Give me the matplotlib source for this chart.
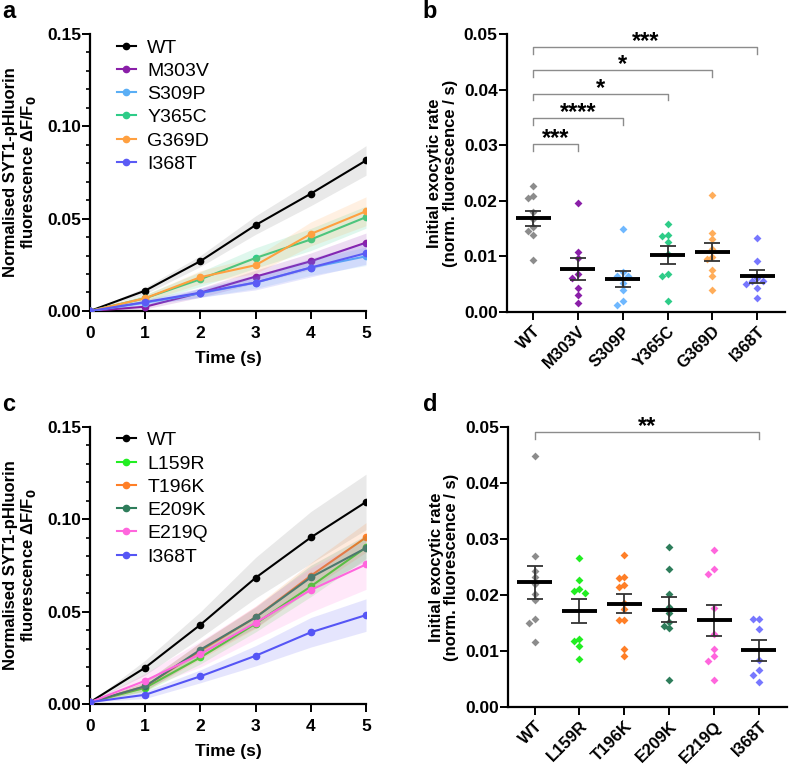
import numpy as np
import matplotlib
matplotlib.use("Agg")
import matplotlib.pyplot as plt

plt.rcParams['font.family'] = ['Liberation Sans', 'DejaVu Sans']

# ---------------- data: time courses (panels a, c) ----------------
time_s = [0, 1, 2, 3, 4, 5]

names_a = ["WT", "M303V", "S309P", "Y365C", "G369D", "I368T"]
mean_a_wt = [0, 0.0110, 0.0270, 0.0465, 0.0635, 0.0815]
mean_a_m303v = [0, 0.0023, 0.0099, 0.0186, 0.0269, 0.0370]
mean_a_s309p = [0, 0.0045, 0.0096, 0.0154, 0.0235, 0.0296]
mean_a_y365c = [0, 0.0069, 0.0172, 0.0287, 0.0387, 0.0508]
mean_a_g369d = [0, 0.0069, 0.0183, 0.0248, 0.0417, 0.0540]
mean_a_i368t = [0, 0.0048, 0.0099, 0.0154, 0.0235, 0.0313]
sem_a_wt = [0, 0.0018, 0.0030, 0.0050, 0.0065, 0.0080]
sem_a_m303v = [0, 0.0012, 0.0025, 0.0035, 0.0045, 0.0052]
sem_a_s309p = [0, 0.0012, 0.0022, 0.0032, 0.0042, 0.0050]
sem_a_y365c = [0, 0.0020, 0.0040, 0.0055, 0.0060, 0.0060]
sem_a_g369d = [0, 0.0018, 0.0035, 0.0045, 0.0065, 0.0078]
sem_a_i368t = [0, 0.0015, 0.0025, 0.0040, 0.0050, 0.0060]

names_c = ["WT", "L159R", "T196K", "E209K", "E219Q", "I368T"]
mean_c_wt = [0.001, 0.0197, 0.0429, 0.0683, 0.0901, 0.1093]
mean_c_l159r = [0.001, 0.0088, 0.0252, 0.0435, 0.0636, 0.0847]
mean_c_t196k = [0.001, 0.0096, 0.0288, 0.0469, 0.0694, 0.0901]
mean_c_e209k = [0.001, 0.0096, 0.0294, 0.0469, 0.0685, 0.0844]
mean_c_e219q = [0.001, 0.0126, 0.0270, 0.0440, 0.0617, 0.0755]
mean_c_i368t = [0.001, 0.0050, 0.0150, 0.0261, 0.0388, 0.0481]
sem_c_wt = [0, 0.0040, 0.0070, 0.0110, 0.0140, 0.0150]
sem_c_l159r = [0, 0.0020, 0.0035, 0.0045, 0.0055, 0.0060]
sem_c_t196k = [0, 0.0025, 0.0045, 0.0060, 0.0070, 0.0080]
sem_c_e209k = [0, 0.0025, 0.0040, 0.0055, 0.0065, 0.0070]
sem_c_e219q = [0, 0.0040, 0.0070, 0.0090, 0.0120, 0.0135]
sem_c_i368t = [0, 0.0020, 0.0035, 0.0055, 0.0080, 0.0088]

# ---------------- data: initial rates (panels b, d) ----------------
rate_b_wt = [0.0226, 0.0208, 0.0205, 0.0180, 0.0167, 0.0153, 0.0145, 0.0139, 0.0094]
rate_b_m303v = [0.0197, 0.0108, 0.0097, 0.0068, 0.0061, 0.0044, 0.0031, 0.0016]
rate_b_s309p = [0.0149, 0.0072, 0.0064, 0.0064, 0.0053, 0.0040, 0.0020, 0.0013]
rate_b_y365c = [0.0159, 0.0138, 0.0136, 0.0126, 0.0105, 0.0069, 0.0064, 0.0020]
rate_b_g369d = [0.0211, 0.0142, 0.0131, 0.0113, 0.0099, 0.0095, 0.0076, 0.0064, 0.0039]
rate_b_i368t = [0.0133, 0.0091, 0.0061, 0.0056, 0.0055, 0.0051, 0.0043, 0.0026]

rate_d_wt = [0.0449, 0.0270, 0.0243, 0.0232, 0.0220, 0.0202, 0.0191, 0.0157, 0.0149, 0.0115]
rate_d_l159r = [0.0267, 0.0226, 0.0210, 0.0204, 0.0207, 0.0121, 0.0117, 0.0108, 0.0085]
rate_d_t196k = [0.0271, 0.0232, 0.0230, 0.0217, 0.0214, 0.0185, 0.0174, 0.0156, 0.0156, 0.0103, 0.0091]
rate_d_e209k = [0.0286, 0.0246, 0.0201, 0.0179, 0.0168, 0.0152, 0.0145, 0.0140, 0.0048]
rate_d_e219q = [0.0280, 0.0246, 0.0237, 0.0177, 0.0130, 0.0103, 0.0091, 0.0081, 0.0048]
rate_d_i368t = [0.0157, 0.0157, 0.0139, 0.0084, 0.0066, 0.0057, 0.0045]

# significance: (group index vs WT, label)
sig_b = [(1, "***"), (2, "****"), (3, "*"), (4, "*"), (5, "***")]
sig_b_y = [0.0302, 0.0349, 0.0393, 0.0435, 0.0477]
sig_d = [(5, "**")]
sig_d_y = [0.0491]

cols_a = ["black", "#8a1fa8", "#5aaef5", "#2ecc88", "#ffa040", "#5b5bf5"]
dots_a = ["#8c8c8c", "#8a1fa8", "#6fb8ff", "#2ecc88", "#ffad5a", "#7777ff"]
cols_c = ["black", "#22ee22", "#ff7f27", "#2e7d5b", "#ff66dd", "#5555f5"]
dots_c = ["#8c8c8c", "#22ee22", "#ff7f27", "#2e7d5b", "#ff66dd", "#7777ff"]


def style_axes(ax, xsize=12.5, xpad=5):
    for s in ["top", "right"]:
        ax.spines[s].set_visible(False)
    for s in ["left", "bottom"]:
        ax.spines[s].set_linewidth(1.6)
    ax.tick_params(width=1.4, length=5.5, direction="out")
    ax.tick_params(axis="y", labelsize=12.5, pad=1)
    ax.tick_params(axis="x", labelsize=xsize, pad=xpad)
    ax.tick_params(which="minor", width=1.2, length=3)
    for lab in ax.get_xticklabels() + ax.get_yticklabels():
        lab.set_fontweight("bold")


def timecourse(ax, names, means, sems, cols):
    for i, (nm, m, s, c) in enumerate(zip(names, means, sems, cols)):
        m = np.array(m)
        s = np.array(s)
        band = "#c8c8c8" if c == "black" else c
        alpha = 0.4 if c == "black" else 0.15
        ax.fill_between(time_s, m - s, m + s, color=band, alpha=alpha, lw=0, zorder=2 * i)
        ax.plot(time_s, m, color=c, lw=1.5, marker="o", ms=4.5, label=nm, zorder=2 * i + 1)
    ax.set_xlim(0, 5)
    ax.set_ylim(0, 0.15)
    ax.set_xticks(time_s)
    ax.set_yticks([0, 0.05, 0.10, 0.15])
    ax.set_yticks(np.arange(0, 0.151, 0.01), minor=True)
    ax.set_yticklabels(["0.00", "0.05", "0.10", "0.15"])
    ax.set_xlabel("Time (s)", fontsize=12.5, fontweight="bold", va="top")
    ax.xaxis.set_label_coords(0.5, -0.145)
    ax.set_ylabel("Normalised SYT1-pHluorin\nfluorescence ΔF/F$_\\mathbf{0}$",
                  fontsize=12, fontweight="bold", linespacing=1.05)
    ax.yaxis.set_label_coords(-0.19, 0.5)
    ax.legend(loc="upper left", bbox_to_anchor=(0.098, 0.982), frameon=False,
              fontsize=14, handlelength=0.95, handletextpad=0.6, labelspacing=0.29,
              borderpad=0, borderaxespad=0)
    style_axes(ax)


def swarm(vals, thresh, step):
    vals = np.array(vals)
    order = np.argsort(vals)[::-1]
    placed = []
    offs = np.zeros(len(vals))
    for i in order:
        for off in [0, -step, step, -2 * step, 2 * step]:
            if all(abs(vals[i] - v) > thresh or abs(off - o) > step * 0.5 for v, o in placed):
                break
        offs[i] = off
        placed.append((vals[i], off))
    return offs


def rates(ax, names, groups, cols, sig, sig_y):
    for k, (vals, c) in enumerate(zip(groups, cols)):
        vals = np.array(vals)
        offs = swarm(vals, 0.0011, 0.125)
        ax.scatter(k + offs, vals, marker="D", s=16, color=c, lw=0, zorder=2)
        m = vals.mean()
        se = vals.std(ddof=1) / np.sqrt(len(vals))
        ax.hlines(m, k - 0.39, k + 0.39, color="black", lw=2.8, zorder=4)
        ax.errorbar(k, m, yerr=se, color="#333333", lw=1.3, capsize=6, capthick=1.3, zorder=3)
    for (g, lab), y in zip(sig, sig_y):
        tick = 0.0012
        ax.plot([0, 0, g, g], [y - tick, y, y, y - tick], color="#8c8c8c", lw=1, clip_on=False)
        ax.text(g / 2, y - 0.0002, lab, ha="center", va="baseline", fontsize=17,
                fontweight="bold", clip_on=False)
    ax.set_xlim(-0.59, 5.62)
    ax.set_ylim(0, 0.05)
    ax.set_xticks(range(len(names)))
    ax.set_xticklabels(names, rotation=45, ha="right", rotation_mode="anchor")
    ax.set_yticks([0, 0.01, 0.02, 0.03, 0.04, 0.05])
    ax.set_yticklabels(["0.00", "0.01", "0.02", "0.03", "0.04", "0.05"])
    ax.set_ylabel("Initial exocytic rate\n(norm. fluorescence / s)", fontsize=12,
                  fontweight="bold", linespacing=1.05)
    ax.yaxis.set_label_coords(-0.175, 0.5)
    style_axes(ax, xsize=12, xpad=3)


fig = plt.figure(figsize=(7.89, 7.68), dpi=100)
ax_a = fig.add_axes([0.1141, 0.5951, 0.3498, 0.3607])
ax_b = fig.add_axes([0.6422, 0.5938, 0.3527, 0.3616])
ax_c = fig.add_axes([0.1141, 0.0833, 0.3498, 0.3611])
ax_d = fig.add_axes([0.6439, 0.0798, 0.3532, 0.3638])

timecourse(ax_a, names_a,
           [mean_a_wt, mean_a_m303v, mean_a_s309p, mean_a_y365c, mean_a_g369d, mean_a_i368t],
           [sem_a_wt, sem_a_m303v, sem_a_s309p, sem_a_y365c, sem_a_g369d, sem_a_i368t],
           cols_a)
timecourse(ax_c, names_c,
           [mean_c_wt, mean_c_l159r, mean_c_t196k, mean_c_e209k, mean_c_e219q, mean_c_i368t],
           [sem_c_wt, sem_c_l159r, sem_c_t196k, sem_c_e209k, sem_c_e219q, sem_c_i368t],
           cols_c)
rates(ax_b, names_a,
      [rate_b_wt, rate_b_m303v, rate_b_s309p, rate_b_y365c, rate_b_g369d, rate_b_i368t],
      dots_a, sig_b, sig_b_y)
rates(ax_d, names_c,
      [rate_d_wt, rate_d_l159r, rate_d_t196k, rate_d_e209k, rate_d_e219q, rate_d_i368t],
      dots_c, sig_d, sig_d_y)

for x, y, lab in [(0.003, 0.976, "a"), (0.536, 0.976, "b"), (0.003, 0.465, "c"), (0.536, 0.465, "d")]:
    fig.text(x, y, lab, fontsize=17, fontweight="bold", va="baseline")

fig.savefig("out.png", dpi=100)
